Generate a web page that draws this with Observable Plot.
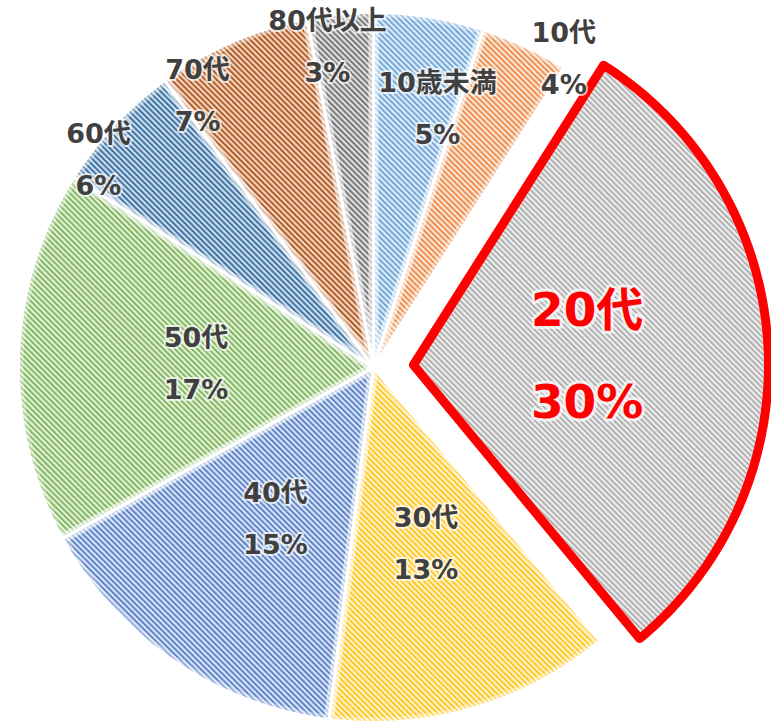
<!DOCTYPE html>
<html><head><meta charset="utf-8">
<script src="https://cdn.jsdelivr.net/npm/d3@7"></script>
<script src="https://cdn.jsdelivr.net/npm/@observablehq/plot@0.6"></script>
<style>
html,body{margin:0;padding:0;background:#fff;}
#chart svg{display:block;}
</style></head><body><div id="chart"></div>
<script>
// ---- data ----
const categories = ["10歳未満","10代","20代","30代","40代","50代","60代","70代","80代以上"];
const values = [5,4,30,13,15,17,6,7,3];
const percentLabels = ["5%","4%","30%","13%","15%","17%","6%","7%","3%"];
const highlighted = "20代";

// ---- style ----
const lineColors = ["#5B9BD5","#ED7D31","#A5A5A5","#FFC000","#4472C4","#70AD47","#255E91","#9E480E","#636363"];
const backColors = ["#DEEBF7","#FBE5D6","#EDEDED","#FFF2CC","#DAE3F3","#E2F0D9","#C9DCEF","#F6D2BC","#DEDEDE"];
// label layout: radial fraction and angular nudge (degrees) from slice middle
const labelRadius = [0.75,1.02,0.49,0.52,0.51,0.50,0.97,0.91,0.91];
const labelTurn = [4.9,6.5,0.8,-0.3,-1.4,-0.8,-6.2,-9.6,-2.8];

// ---- layout ----
const W = 771, H = 725, R = 355, CX = 373, CY = 367;
const explode = 40 / R;

const rows = categories.map((c, i) => ({cat: c, value: values[i], pct: percentLabels[i], i}));
const arcs = d3.pie().sort(null).value(d => d.value)(rows);

const pts = [];
const labels = [];
arcs.forEach(a => {
  const cat = a.data.cat;
  const mid = (a.startAngle + a.endAngle) / 2;
  const off = cat === highlighted ? explode : 0;
  const ox = off * Math.sin(mid), oy = off * Math.cos(mid);
  pts.push({cat, u: ox, v: oy});
  const n = Math.max(4, Math.ceil((a.endAngle - a.startAngle) / (Math.PI / 360)));
  for (let k = 0; k <= n; k++) {
    const t = a.startAngle + (a.endAngle - a.startAngle) * k / n;
    pts.push({cat, u: ox + Math.sin(t), v: oy + Math.cos(t)});
  }
  pts.push({cat, u: ox, v: oy});
  const th = mid + labelTurn[a.data.i] * Math.PI / 180;
  const f = labelRadius[a.data.i];
  labels.push({cat, pct: a.data.pct, u: ox + f * Math.sin(th), v: oy + f * Math.cos(th), hi: cat === highlighted});
});

const normalPts = pts.filter(d => d.cat !== highlighted);
const hiPts = pts.filter(d => d.cat === highlighted);
const normalLabels = labels.filter(d => !d.hi);
const hiLabels = labels.filter(d => d.hi);

const font = "'DejaVu Sans','Noto Sans CJK JP',sans-serif";
const textBase = {x: "u", y: "v", fontFamily: font, fontWeight: "bold", stroke: "white", strokeOpacity: 0.7, strokeWidth: 4};

const svg = Plot.plot({
  width: W, height: H,
  margin: 0,
  x: {domain: [-CX / R, (W - CX) / R], range: [0, W], axis: null},
  y: {domain: [(CY - H) / R, CY / R], range: [H, 0], axis: null},
  color: {type: "ordinal", domain: categories, range: categories.map((c, i) => `url(#pat${i})`)},
  marks: [
    Plot.line(pts, {x: "u", y: "v", z: "cat", fill: "cat", stroke: "none"}),
    Plot.line(pts, {x: "u", y: "v", z: "cat", fill: "none", stroke: "white", strokeWidth: 10, strokeOpacity: 0.35, strokeLinejoin: "round"}),
    Plot.line(normalPts, {x: "u", y: "v", z: "cat", fill: "none", stroke: "white", strokeWidth: 3, strokeLinejoin: "round"}),
    Plot.line(hiPts, {x: "u", y: "v", z: "cat", fill: "none", stroke: "#FF0000", strokeWidth: 9, strokeLinejoin: "round"}),
    Plot.text(normalLabels, {...textBase, text: "cat", dy: -26, fontSize: 27, fill: "#404040"}),
    Plot.text(normalLabels, {...textBase, text: "pct", dy: 26, fontSize: 27, fill: "#404040"}),
    Plot.text(hiLabels, {...textBase, text: "cat", dy: -46, fontSize: 47, fill: "#FF0000", strokeWidth: 6}),
    Plot.text(hiLabels, {...textBase, text: "pct", dy: 46, fontSize: 47, fill: "#FF0000", strokeWidth: 6})
  ]
});

const defs = d3.select(svg).insert("defs", ":first-child");
categories.forEach((c, i) => {
  const p = defs.append("pattern")
    .attr("id", `pat${i}`)
    .attr("patternUnits", "userSpaceOnUse")
    .attr("width", 4).attr("height", 4)
    .attr("patternTransform", "rotate(-45)");
  p.append("rect").attr("width", 4).attr("height", 4).attr("fill", backColors[i]);
  p.append("rect").attr("width", 1.6).attr("height", 4).attr("fill", lineColors[i]);
});

document.getElementById("chart").appendChild(svg);
</script>
</body></html>
